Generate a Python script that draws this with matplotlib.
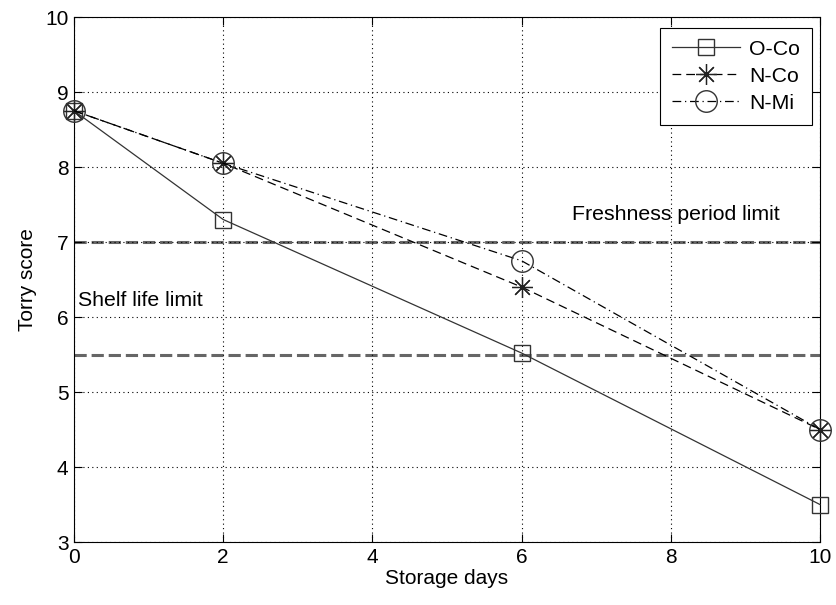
import matplotlib.pyplot as plt

days = [0, 2, 6, 10]
o_co = [8.75, 7.3, 5.52, 3.5]
n_co = [8.75, 8.05, 6.4, 4.5]
n_mi = [8.75, 8.05, 6.75, 4.5]
freshness_limit = 7.0
shelf_limit = 5.5

plt.rcParams['font.family'] = ['Liberation Sans', 'DejaVu Sans']

fig = plt.figure(figsize=(8.36, 6.05), dpi=100)
ax = fig.add_axes([0.0885, 0.1041, 0.8923, 0.8678])

# limit lines
ax.axhline(freshness_limit, color='#666666', linestyle=(0, (4, 1.6)), linewidth=2.2, zorder=1)
ax.axhline(shelf_limit, color='#666666', linestyle=(0, (4, 1.6)), linewidth=2.2, zorder=1)

ax.plot(days, o_co, color='#333333', linestyle='-', linewidth=0.9, marker='s', markersize=12,
        markerfacecolor='none', markeredgecolor='#333333', markeredgewidth=1.0, label='O-Co',
        zorder=3, clip_on=False)
ax.plot(days, n_co, color='black', linestyle=(0, (7, 4)), linewidth=0.9, marker=(8, 2, 0), markersize=15,
        markerfacecolor='none', markeredgecolor='#222222', markeredgewidth=0.9, label='N-Co',
        zorder=3, clip_on=False)
ax.plot(days, n_mi, color='black', linestyle=(0, (7, 3, 1, 3)), linewidth=0.9, marker='o', markersize=15.5,
        markerfacecolor='none', markeredgecolor='#333333', markeredgewidth=1.0, label='N-Mi',
        zorder=3, clip_on=False)

ax.text(6.67, 7.3, 'Freshness period limit', ha='left', va='baseline', fontsize=15.3)
ax.text(0.05, 6.15, 'Shelf life limit', ha='left', va='baseline', fontsize=15.3)

ax.set_xlim(0, 10)
ax.set_ylim(3, 10)
ax.set_xticks([0, 2, 4, 6, 8, 10])
ax.set_yticks(range(3, 11))
ax.tick_params(direction='in', labelsize=15, length=6, pad=4)
ax.tick_params(top=True, right=True)
ax.grid(True, color='black', linestyle=(0, (1, 3)), linewidth=0.8)
ax.set_xlabel('Storage days', fontsize=15, labelpad=2)
ax.set_ylabel('Torry score', fontsize=15, labelpad=6)

leg = ax.legend(loc='upper right', bbox_to_anchor=(0.989, 0.979), fontsize=15.3, fancybox=False,
                framealpha=1, edgecolor='black', handlelength=3.2, borderaxespad=0,
                labelspacing=0.38, handletextpad=0.45, borderpad=0.55)
leg.get_frame().set_linewidth(0.8)

fig.savefig('out.png', dpi=100)
